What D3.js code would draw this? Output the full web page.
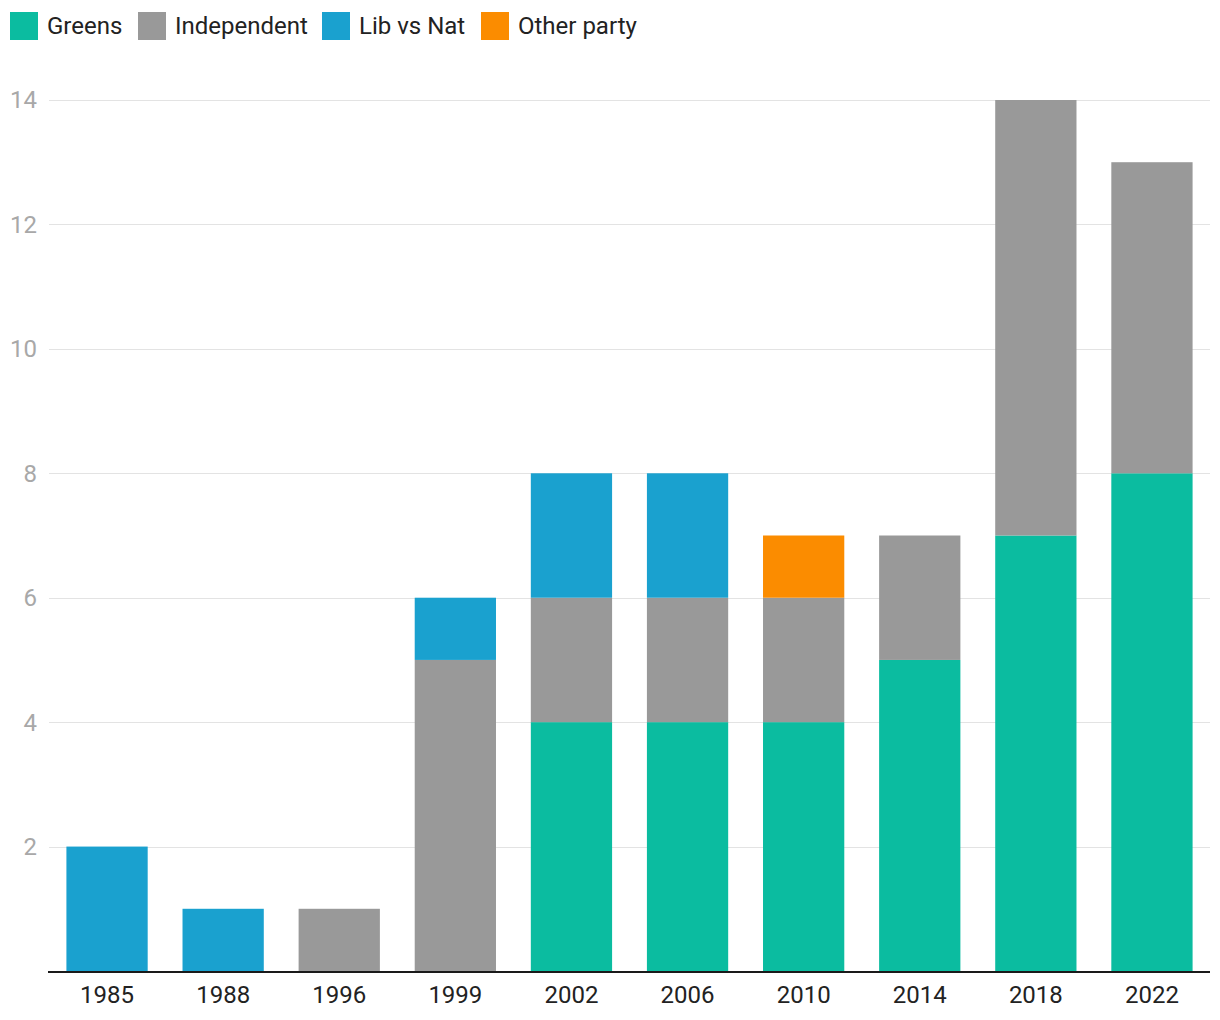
<!DOCTYPE html>
<html><head><meta charset="utf-8">
<script src="https://cdn.jsdelivr.net/npm/d3@7"></script>
<style>
html,body{margin:0;padding:0;background:#fff;}
svg{display:block;font-family:Roboto, "Noto Sans", sans-serif;}
</style></head>
<body>
<svg id="chart" width="1220" height="1020"></svg>
<script>
const years = ["1985","1988","1996","1999","2002","2006","2010","2014","2018","2022"];
const seriesNames = ["Greens","Independent","Lib vs Nat","Other party"];
const greens      = [0,0,0,0,4,4,4,5,7,8];
const independent = [0,0,1,5,2,2,2,2,7,5];
const libVsNat    = [2,1,0,1,2,2,0,0,0,0];
const otherParty  = [0,0,0,0,0,0,1,0,0,0];
const yTicks = [2,4,6,8,10,12,14];
const colors = ["#0bbca0","#999999","#1aa1cf","#fb8c00"];

(function(){
const rows = years.map((y,i)=>({year:y,"Greens":greens[i],"Independent":independent[i],"Lib vs Nat":libVsNat[i],"Other party":otherParty[i]}));
const stack = d3.stack().keys(seriesNames)(rows);

const svg = d3.select("#chart");
const pLeft = 49, pRight = 1210, pTop = 100, pBottom = 971;
const x = d3.scaleBand().domain(years).range([pLeft,pRight]).paddingInner(0.3).paddingOuter(0.15);
const y = d3.scaleLinear().domain([0,14]).range([pBottom,pTop]);
const color = d3.scaleOrdinal().domain(seriesNames).range(colors);

// gridlines
svg.append("g").selectAll("line").data(yTicks).join("line")
  .attr("x1",pLeft).attr("x2",pRight)
  .attr("y1",d=>Math.round(y(d))+0.5).attr("y2",d=>Math.round(y(d))+0.5)
  .attr("stroke","#e3e3e3").attr("stroke-width",1);

// y labels
svg.append("g").selectAll("text").data(yTicks).join("text")
  .attr("x",37).attr("y",d=>y(d)).attr("dy","0.35em")
  .attr("text-anchor","end").attr("font-size",24).attr("fill","#a8a8a8")
  .text(d=>d);

// bars
svg.append("g").selectAll("g").data(stack).join("g")
  .attr("fill",d=>color(d.key))
  .selectAll("rect").data(d=>d.filter(s=>s[1]-s[0]>0)).join("rect")
  .attr("x",d=>x(d.data.year)).attr("width",x.bandwidth())
  .attr("y",d=>y(d[1])).attr("height",d=>y(d[0])-y(d[1]));

// baseline
svg.append("line").attr("x1",48).attr("x2",pRight).attr("y1",pBottom+1).attr("y2",pBottom+1)
  .attr("stroke","#1a1a1a").attr("stroke-width",2);

// x labels
const xAxis = d3.axisBottom(x).tickSize(0).tickPadding(0);
const gx = svg.append("g").attr("transform",`translate(0,${pBottom})`).call(xAxis);
gx.select(".domain").remove();
gx.selectAll("text").attr("font-size",24).attr("font-family","Roboto, sans-serif")
  .attr("fill","#222").attr("y",24).attr("dy","0.35em");

// legend
const legendX = [10,138,322,481];
const lg = svg.append("g").selectAll("g").data(seriesNames).join("g")
  .attr("transform",(d,i)=>`translate(${legendX[i]},12)`);
lg.append("rect").attr("width",28).attr("height",28).attr("fill",d=>color(d));
lg.append("text").attr("x",37).attr("y",14).attr("dy","0.35em")
  .attr("font-size",24).attr("fill","#222").text(d=>d);
})();
</script>
</body></html>
